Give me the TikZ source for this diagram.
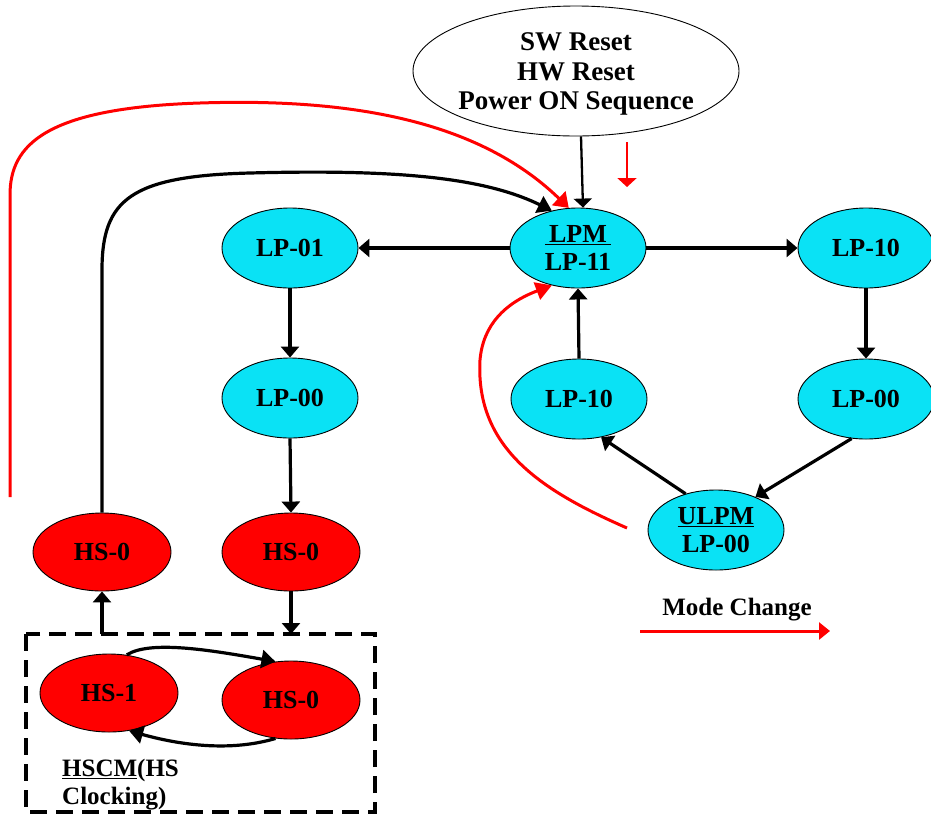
\documentclass[tikz,border=0pt]{standalone}
\usepackage{fontspec}
\setmainfont{Liberation Serif}
\usetikzlibrary{arrows.meta,shapes.geometric}
\definecolor{lpcyan}{RGB}{10,226,245}
\begin{document}
\begin{tikzpicture}[x=1pt,y=-1pt,
  lp/.style={ellipse, draw=black, line width=0.9pt, fill=lpcyan, minimum width=136pt, minimum height=80pt, inner sep=0pt, font=\bfseries\fontsize{26}{28}\selectfont, align=center},
  hs/.style={lp, fill=red, minimum height=78pt, minimum width=138pt},
  conn/.style={line width=3.2pt, -{Triangle[length=11pt 0 0,width=18pt 0 0]}},
  curveconn/.style={line width=3.2pt, -{Triangle[length=14pt 0 0,width=18pt 0 0]}},
  thinconn/.style={line width=2.3pt, -{Triangle[length=9pt 0 0,width=18pt 0 0]}},
  mode/.style={red, line width=3pt, -{Triangle[length=14pt 0 0,width=19pt 0 0]}},
  lbl/.style={font=\bfseries\fontsize{25}{28}\selectfont, inner sep=0pt},
  hsbox/.style={dash pattern=on 17pt off 9pt, line width=3.2pt}
]
\useasboundingbox (0,0) rectangle (931,815);

% top ellipse
\node[ellipse, draw=black, line width=0.9pt, minimum width=326pt, minimum height=130pt, inner sep=0pt] (reset) at (576,71) {};
\node[align=center, inner sep=0pt, font=\bfseries\fontsize{27}{29.5}\selectfont] (resettext) at (576,74) {SW Reset\\ HW Reset\\Power ON Sequence};

% LP nodes
\node[lp] (lpm) at (578,248) {\underline{\,LPM\,}\\LP-11};
\node[lp] (lp01) at (290,248) {LP-01};
\node[lp] (lp10r) at (866,248) {LP-10};
\node[lp] (lp00l) at (290,398) {LP-00};
\node[lp] (lp10m) at (579,399) {LP-10};
\node[lp] (lp00r) at (866,399) {LP-00};
\node[lp] (ulpm) at (716,530) {\underline{ULPM}\\LP-00};

% HS nodes
\node[hs] (hsa) at (102,552) {HS-0};
\node[hs] (hsb) at (291,552) {HS-0};
\node[hs] (hs1) at (109,693) {HS-1};
\node[hs] (hsc) at (291,700) {HS-0};

% dashed box
\draw[hsbox] (26,634) rectangle (375,812);
\coordinate (boxa) at (102,634);
\coordinate (boxb) at (291,634);
\node[anchor=west, align=left, inner sep=0pt, font=\bfseries\fontsize{25}{28}\selectfont] (hscm) at (62,785) {\underline{HSCM}(HS\\Clocking)};

% connectors
\draw[thinconn] ([xshift=5]reset.south) -- ([xshift=5]lpm.north);
\draw[conn] (lpm.west) -- (lp01.east);
\draw[conn] (lpm.east) -- (lp10r.west);
\draw[conn] (lp01.south) -- (lp00l.north);
\draw[conn] (lp00l.south) -- (hsb.north);
\draw[conn] (hsb.south) -- (boxb);
\draw[conn] (boxa) -- (hsa.south);
\draw[conn] (lp10m.north) -- (lpm.south);
\draw[conn] (lp10r.south) -- (lp00r.north);
\draw[conn] (lp00r.250) -- (ulpm.40);
\draw[conn] (ulpm.130) -- (lp10m.-60);
\draw[curveconn] (hsa.north) -- (102,270) .. controls (102,200) and (130,176) .. (250,173) .. controls (400,169) and (485,178) .. (lpm.125);
\draw[curveconn] (hs1.65) .. controls (150,640) and (210,650) .. (hsc.112);
\draw[curveconn] (hsc.-112) .. controls (230,752) and (180,745) .. (hs1.-62);

% red mode-change arrows
\coordinate (rs1) at (10,497);
\draw[mode] (rs1) -- (10,195) .. controls (10,145) and (45,108) .. (200,103) .. controls (350,98) and (478,120) .. (lpm.103);
\coordinate (rs2) at (627,528);
\draw[mode, -{Triangle[length=16pt 0 0,width=18pt 0 0]}] (rs2) .. controls (545,492) and (475,450) .. (480,360) .. controls (483,325) and (505,303) .. (lpm.235);
\coordinate (rs3a) at (627,142);
\coordinate (rs3b) at (627,187);
\draw[mode, line width=2.6pt, -{Triangle[length=9pt 0 0,width=19pt 0 0]}] (rs3a) -- (rs3b);

% legend
\node[lbl] (modelbl) at (737,610) {Mode Change};
\coordinate (la) at (640,631);
\coordinate (lb) at (830,631);
\draw[mode, -{Triangle[length=11pt 0 0,width=17pt 0 0]}] (la) -- (lb);
\end{tikzpicture}
\end{document}
